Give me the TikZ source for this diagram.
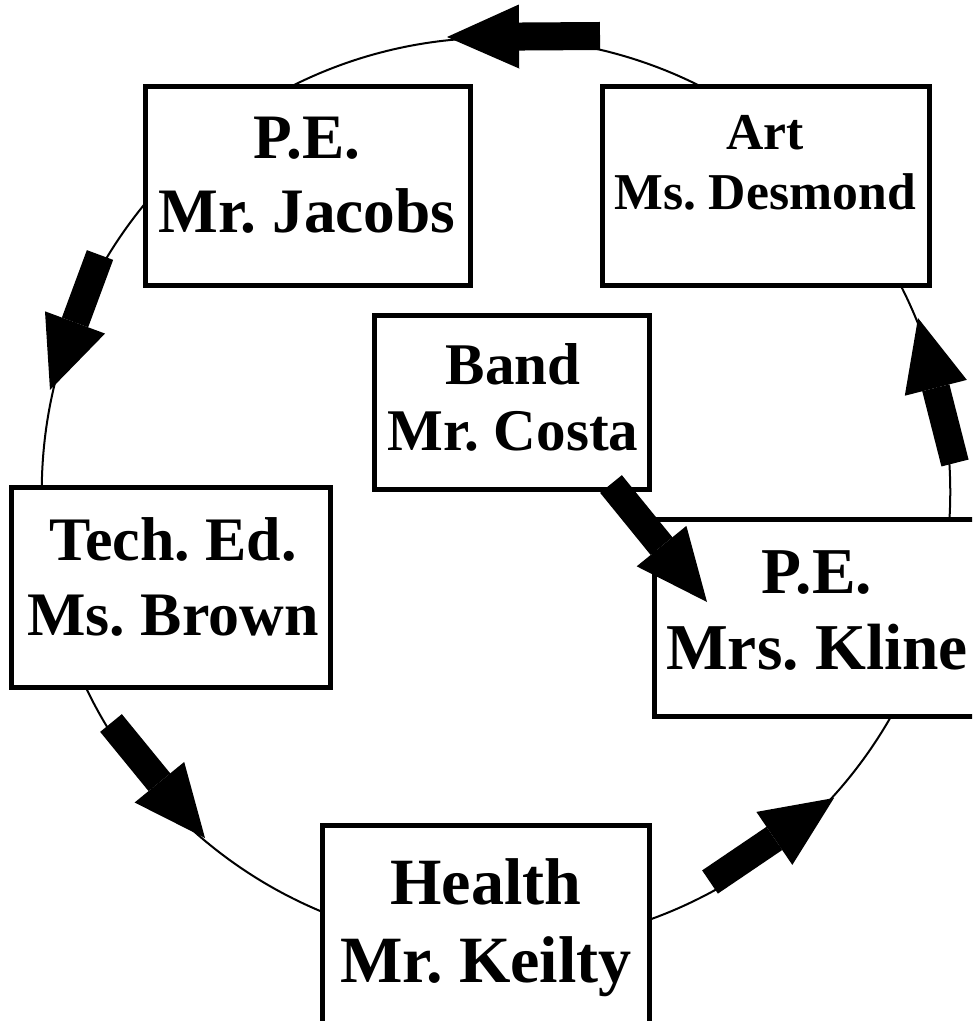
\documentclass[tikz,border=0pt]{standalone}
\usepackage{fontspec}
\setmainfont{Liberation Serif}
\usetikzlibrary{arrows.meta}
\frenchspacing
\begin{document}
\begin{tikzpicture}[x=0.01cm,y=-0.01cm,
  box/.style={draw, line width=0.05cm, fill=white, rectangle, inner sep=0pt},
  lbl/.style={anchor=north, align=center, inner sep=0pt},
  blk/.style={line width=0.28cm, -{Triangle[length=0.72cm,width=0.64cm,line width=0pt]}},
  ring/.style={line width=0.02cm}]
\useasboundingbox (0,0) rectangle (972,1021);
\clip (0,0) rectangle (972,1021);
\coordinate (c) at (496,492);
\draw[ring] (c) circle[radius=4.54cm];

% boxes
\node[box, minimum width=3.25cm, minimum height=1.985cm] (jac) at (308,185.75) {};
\node[box, minimum width=3.27cm, minimum height=1.985cm] (art) at (766,185.75) {};
\node[box, minimum width=2.75cm, minimum height=1.74cm] (band) at (512,402.5) {};
\node[box, minimum width=3.19cm, minimum height=2.00cm] (tech) at (171,587.5) {};
\node[box, minimum width=3.255cm, minimum height=1.965cm] (kline) at (817.25,618.25) {};
\node[box, minimum width=3.27cm, minimum height=2.00cm] (health) at (486,925.5) {};

% labels
\node[lbl, font=\bfseries\fontsize{18}{21.1}\selectfont] (jact) at (307,116) {P.E.\\Mr. Jacobs};
\node[lbl, font=\bfseries\fontsize{14.7}{17.1}\selectfont] (artt) at (765,115) {Art\\Ms. Desmond};
\node[lbl, font=\bfseries\fontsize{16.8}{18.8}\selectfont] (bandt) at (513,343) {Band\\Mr. Costa};
\node[lbl, font=\bfseries\fontsize{17.6}{21.3}\selectfont] (techt) at (173,517) {Tech. Ed.\\Ms. Brown};
\node[lbl, font=\bfseries\fontsize{18.6}{21.6}\selectfont] (klinet) at (817,550) {P.E.\\Mrs. Kline};
\node[lbl, font=\bfseries\fontsize{18.8}{22.2}\selectfont] (healtht) at (486,858) {Health\\Mr. Keilty};

% arrow end points
\coordinate (a1s) at (600,36);  \coordinate (a1e) at (447,37);
\coordinate (a2s) at (100,255); \coordinate (a2e) at (50,390);
\coordinate (a3s) at (111,723); \coordinate (a3e) at (205,838);
\coordinate (a4s) at (710,882); \coordinate (a4e) at (834,798);
\coordinate (a5s) at (955,463); \coordinate (a5e) at (918,318);
\coordinate (a6s) at (611,484); \coordinate (a6e) at (707,602);

\draw[blk] (a1s) -- (a1e);
\draw[blk] (a2s) -- (a2e);
\draw[blk] (a3s) -- (a3e);
\draw[blk] (a4s) -- (a4e);
\draw[blk] (a5s) -- (a5e);
\draw[blk] (a6s) -- (a6e);
\end{tikzpicture}
\end{document}
